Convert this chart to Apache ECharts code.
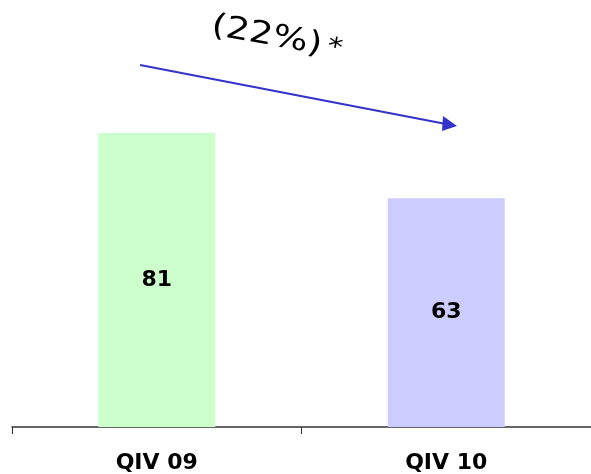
<!DOCTYPE html>
<html>
<head>
<meta charset="utf-8">
<style>
  html, body { margin: 0; padding: 0; background: #fff; }
  #chart { width: 591px; height: 474px; }
</style>
<script src="https://cdn.jsdelivr.net/npm/echarts@6/dist/echarts.min.js"></script>
</head>
<body>
<div id="chart"></div>
<script>
// Quarterly figures
const categories = ['QIV 09', 'QIV 10'];
const values = [81, 63];
const barColors = ['#ccffcc', '#ccccff'];

// Year-over-year change, shown in accounting style (negative in brackets)
const change = Math.round((values[1] - values[0]) / values[0] * 100);
const changeText = change < 0 ? '(' + Math.abs(change) + '%)' : change + '%';

const chart = echarts.init(document.getElementById('chart'), null, { renderer: 'canvas' });

chart.setOption({
  animation: false,
  backgroundColor: '#ffffff',
  grid: { left: 12, width: 582, top: 64, height: 364, containLabel: false },
  xAxis: {
    type: 'category',
    data: categories,
    axisLine: { lineStyle: { color: '#333333', width: 1.5 } },
    axisTick: { show: true, inside: false, length: 7, lineStyle: { color: '#333333', width: 1 } },
    axisLabel: {
      color: '#000000',
      fontFamily: 'DejaVu Sans',
      fontWeight: 'bold',
      fontSize: 22,
      margin: 25
    }
  },
  yAxis: {
    type: 'value',
    min: 0,
    max: 100,
    show: false,
    splitLine: { show: false }
  },
  series: [{
    type: 'bar',
    barWidth: 117,
    data: values.map((v, i) => ({ value: v, itemStyle: { color: barColors[i] } })),
    label: {
      show: true,
      position: 'inside',
      color: '#000000',
      fontFamily: 'DejaVu Sans',
      fontWeight: 'bold',
      fontSize: 22
    }
  }],
  graphic: [
    // trend arrow shaft
    {
      type: 'line',
      shape: { x1: 140, y1: 65, x2: 446, y2: 124 },
      style: { stroke: '#3333cc', lineWidth: 2 }
    },
    // arrow head
    {
      type: 'polygon',
      shape: { points: [[457, 126], [443, 116], [442, 131]] },
      style: { fill: '#3333cc' }
    },
    // change annotation, stretched wide and tilted along the arrow
    {
      type: 'text',
      x: 277,
      y: 38,
      rotation: -0.18,
      scaleX: 1.2,
      style: {
        text: '{m|' + changeText + '}{s|\u2009*}',
        rich: {
          m: { font: '31px "DejaVu Sans"', fill: '#000000', color: '#000000' },
          s: { font: '25px "DejaVu Sans"', fill: '#000000', color: '#000000' }
        },
        align: 'center',
        verticalAlign: 'middle'
      }
    }
  ]
});
</script>
</body>
</html>
